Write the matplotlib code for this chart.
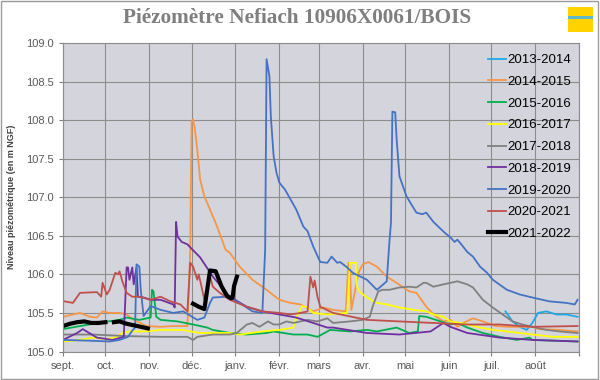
import matplotlib

matplotlib.use("Agg")

import matplotlib.pyplot as plt
import numpy as np
from matplotlib.patches import Rectangle

# x = days since 1 September, y = level in m NGF
month_labels = ["sept.", "oct.", "nov.", "déc.", "janv.", "févr.", "mars",
                "avr.", "mai", "juin", "juil.", "août"]
month_starts = [0, 30, 61, 91, 122, 153, 181, 212, 242, 273, 303, 334]

days_2013 = [313, 318, 323, 328, 332, 336, 342, 349, 356, 364]
level_2013 = [105.52, 105.39, 105.32, 105.28, 105.37, 105.50, 105.52, 105.48, 105.48, 105.45]

days_2014 = [0, 7, 12, 19, 24, 28, 33, 40, 45, 50, 59, 69, 78, 88, 90, 91, 92, 93, 95, 97,
             100, 104, 109, 115, 118, 125, 134, 144, 153, 161, 168, 177, 184, 191, 200, 202,
             203, 204, 209, 212, 216, 222, 229, 236, 240, 245, 250, 257, 264, 269, 274, 279,
             283, 290, 297, 306, 316, 332, 337, 351, 364]
level_2014 = [105.45, 105.48, 105.50, 105.45, 105.44, 105.52, 105.50, 105.50, 105.48, 105.41,
              105.33, 105.32, 105.33, 105.33, 106.32, 107.98, 108.01, 107.92, 107.62, 107.23,
              107.01, 106.84, 106.62, 106.32, 106.28, 106.10, 105.93, 105.80, 105.67, 105.63,
              105.61, 105.52, 105.57, 105.54, 105.52, 106.15, 106.09, 105.54, 106.02, 106.13,
              106.16, 106.10, 105.97, 105.89, 105.84, 105.78, 105.76, 105.58, 105.45, 105.39,
              105.41, 105.32, 105.37, 105.43, 105.39, 105.33, 105.32, 105.32, 105.29, 105.28,
              105.26]

days_2015 = [0, 12, 28, 40, 45, 54, 62, 63, 64, 66, 69, 81, 92, 102, 106, 118, 130, 144,
             149, 163, 173, 180, 189, 203, 215, 222, 236, 245, 251, 252, 257, 267, 274, 279,
             286, 297, 309, 321, 330, 332, 364]
level_2015 = [105.29, 105.33, 105.38, 105.41, 105.44, 105.41, 105.44, 105.80, 105.78, 105.45,
              105.41, 105.39, 105.35, 105.31, 105.28, 105.24, 105.22, 105.24, 105.26, 105.22,
              105.22, 105.19, 105.28, 105.26, 105.28, 105.26, 105.31, 105.24, 105.26, 105.46,
              105.45, 105.39, 105.35, 105.37, 105.31, 105.24, 105.19, 105.15, 105.18, 105.15,
              105.13]

days_2016 = [0, 12, 21, 31, 38, 42, 47, 59, 69, 85, 90, 97, 118, 125, 141, 153, 163, 165,
             169, 173, 177, 187, 201, 203, 207, 208, 210, 215, 222, 229, 238, 248, 257, 262,
             269, 274, 281, 286, 295, 304, 314, 323, 332, 347, 364]
level_2016 = [105.13, 105.15, 105.18, 105.16, 105.19, 105.24, 105.26, 105.26, 105.28, 105.28,
              105.26, 105.24, 105.24, 105.22, 105.26, 105.28, 105.31, 105.44, 105.59, 105.57,
              105.50, 105.48, 105.50, 106.15, 106.15, 105.84, 105.77, 105.70, 105.63, 105.61,
              105.57, 105.54, 105.52, 105.48, 105.45, 105.39, 105.37, 105.35, 105.31, 105.28,
              105.26, 105.24, 105.22, 105.19, 105.19]

days_2017 = [0, 21, 45, 69, 88, 92, 95, 106, 118, 123, 130, 134, 139, 145, 149, 153, 158,
             163, 173, 180, 187, 191, 203, 212, 217, 219, 223, 226, 231, 238, 245, 250, 255,
             257, 262, 269, 274, 279, 286, 290, 297, 304, 311, 318, 325, 332, 342, 351, 364]
level_2017 = [105.22, 105.22, 105.20, 105.19, 105.19, 105.15, 105.19, 105.22, 105.22, 105.24,
              105.35, 105.37, 105.32, 105.39, 105.35, 105.35, 105.39, 105.37, 105.41, 105.39,
              105.43, 105.37, 105.39, 105.41, 105.45, 105.58, 105.78, 105.80, 105.80, 105.83,
              105.84, 105.83, 105.89, 105.89, 105.84, 105.87, 105.89, 105.91, 105.87, 105.83,
              105.67, 105.57, 105.48, 105.39, 105.35, 105.32, 105.28, 105.26, 105.24]

days_2018 = [0, 10, 14, 24, 35, 43, 45, 46, 47, 49, 50, 52, 53, 57, 62, 69, 78, 79, 80, 81,
             84, 88, 90, 97, 106, 118, 130, 141, 153, 165, 177, 187, 191, 215, 238, 260, 269,
             274, 286, 309, 332, 364]
level_2018 = [105.15, 105.24, 105.29, 105.18, 105.15, 105.19, 106.09, 106.09, 105.93, 106.09,
              105.87, 106.09, 105.71, 105.70, 105.67, 105.67, 105.61, 105.57, 106.68, 106.49,
              106.42, 106.39, 106.35, 106.22, 105.97, 105.71, 105.58, 105.52, 105.48, 105.44,
              105.37, 105.31, 105.31, 105.24, 105.22, 105.26, 105.37, 105.32, 105.24, 105.18,
              105.15, 105.13]

days_2019 = [0, 19, 33, 40, 46, 49, 51, 52, 54, 55, 57, 62, 69, 78, 85, 95, 100, 104, 106,
             116, 125, 134, 141, 143, 144, 146, 147, 149, 151, 153, 157, 161, 165, 170, 173,
             177, 182, 187, 190, 194, 196, 201, 205, 215, 222, 224, 229, 231, 232, 233, 235,
             236, 238, 243, 250, 254, 257, 262, 270, 274, 277, 279, 283, 286, 290, 295, 300,
             304, 314, 323, 332, 344, 356, 362, 364]
level_2019 = [105.15, 105.14, 105.13, 105.15, 105.19, 105.27, 105.31, 106.13, 106.10, 105.80,
              105.46, 105.59, 105.54, 105.50, 105.52, 105.41, 105.44, 105.63, 105.70, 105.71,
              105.63, 105.52, 105.50, 106.32, 108.79, 108.57, 108.05, 107.53, 107.32, 107.19,
              107.10, 106.97, 106.84, 106.62, 106.56, 106.36, 106.16, 106.15, 106.23, 106.15,
              106.16, 106.09, 106.02, 105.93, 105.80, 105.83, 105.91, 106.45, 106.67, 108.11,
              108.10, 107.75, 107.27, 107.01, 106.80, 106.78, 106.80, 106.68, 106.54, 106.48,
              106.42, 106.45, 106.36, 106.29, 106.23, 106.10, 106.02, 105.93, 105.80, 105.74,
              105.70, 105.65, 105.63, 105.61, 105.67]

days_2020 = [1, 7, 12, 24, 27, 28, 31, 33, 37, 39, 40, 42, 45, 49, 54, 62, 69, 76, 83, 88,
             90, 92, 95, 96, 98, 100, 104, 106, 111, 118, 130, 141, 153, 161, 168, 173, 175,
             177, 178, 180, 182, 191, 215, 238, 262, 286, 309, 332, 364]
level_2020 = [105.65, 105.63, 105.76, 105.77, 105.71, 105.89, 105.74, 105.80, 106.02, 106.00,
              106.04, 105.91, 105.76, 105.71, 105.71, 105.67, 105.71, 105.65, 105.61, 105.52,
              106.15, 106.10, 105.93, 106.00, 105.84, 105.67, 105.97, 105.84, 105.76, 105.67,
              105.58, 105.52, 105.50, 105.48, 105.50, 105.52, 105.97, 105.83, 105.92, 105.71,
              105.58, 105.50, 105.41, 105.39, 105.37, 105.35, 105.35, 105.32, 105.33]

days_2021 = [0, 5, 10, 15, 20, 25, 30, np.nan, 36, 40, 45, 50, 55, 60, np.nan,
             92, 96, 100, 102, 104, 108, 112, 116, 119, 120, 121, 123]
level_2021 = [105.33, 105.36, 105.38, 105.39, 105.37, 105.37, 105.38, np.nan,
              105.38, 105.39, 105.36, 105.34, 105.32, 105.30, np.nan,
              105.62, 105.58, 105.55, 105.80, 106.05, 106.04, 105.85, 105.72, 105.69,
              105.70, 105.85, 105.97]

series = [
    ("2013-2014", days_2013, level_2013, "#1fa8e8", 1.3),
    ("2014-2015", days_2014, level_2014, "#f79646", 1.3),
    ("2015-2016", days_2015, level_2015, "#00b050", 1.3),
    ("2016-2017", days_2016, level_2016, "#ffff00", 1.3),
    ("2017-2018", days_2017, level_2017, "#808080", 1.3),
    ("2018-2019", days_2018, level_2018, "#7030a0", 1.3),
    ("2019-2020", days_2019, level_2019, "#4472c4", 1.3),
    ("2020-2021", days_2020, level_2020, "#c0504d", 1.3),
    ("2021-2022", days_2021, level_2021, "#000000", 3.0),
]

plt.rcParams["font.family"] = ["Liberation Sans", "DejaVu Sans"]

fig = plt.figure(figsize=(6, 3.8), dpi=100)
ax = fig.add_axes([0.105, 0.075, 0.86, 0.812])
ax.set_facecolor("#d4d4dc")

for name, days, level, color, width in series:
    ax.plot(days, level, color=color, linewidth=width, label=name, solid_joinstyle="round")

ax.set_xlim(0, 365)
ax.set_ylim(105.0, 109.0)
ax.set_xticks(month_starts + [365])
ax.set_xticklabels(month_labels + [""])
ax.set_yticks(np.arange(105.0, 109.01, 0.5))
ax.yaxis.set_major_formatter(matplotlib.ticker.FormatStrFormatter("%.1f"))
ax.tick_params(colors="#7f7f7f", labelcolor="#595959", labelsize=8, length=3)
ax.grid(True, color="#8c8c8c", linewidth=0.8)
ax.set_axisbelow(True)
for spine in ax.spines.values():
    spine.set_color("#8c8c8c")
    spine.set_linewidth(0.8)

ax.set_ylabel("Niveau piézométrique (en m NGF)", fontsize=6.5, fontweight="bold",
              color="#404040", labelpad=7)

ax.legend(loc="upper right", bbox_to_anchor=(1.0, 0.99), frameon=False, fontsize=9.5,
          handlelength=1.4, handletextpad=0.1, labelspacing=0.72, borderaxespad=0.2)

fig.text(0.495, 0.952, "Piézomètre Nefiach 10906X0061/BOIS", ha="center", va="center",
         fontsize=15.3, fontweight="bold", color="#7f7f7f", family="Liberation Serif")

# small logo in the top right corner
fig.add_artist(Rectangle((0.947, 0.915), 0.042, 0.066, transform=fig.transFigure,
                         facecolor="#ffd200", edgecolor="none"))
fig.add_artist(Rectangle((0.947, 0.95), 0.042, 0.008, transform=fig.transFigure,
                         facecolor="#5fb8c8", edgecolor="none"))
fig.add_artist(Rectangle((0.002, 0.003), 0.995, 0.994, transform=fig.transFigure,
                         facecolor="none", edgecolor="#9a9a9a", linewidth=1.0))

fig.savefig("out.png", dpi=100)
plt.close(fig)
